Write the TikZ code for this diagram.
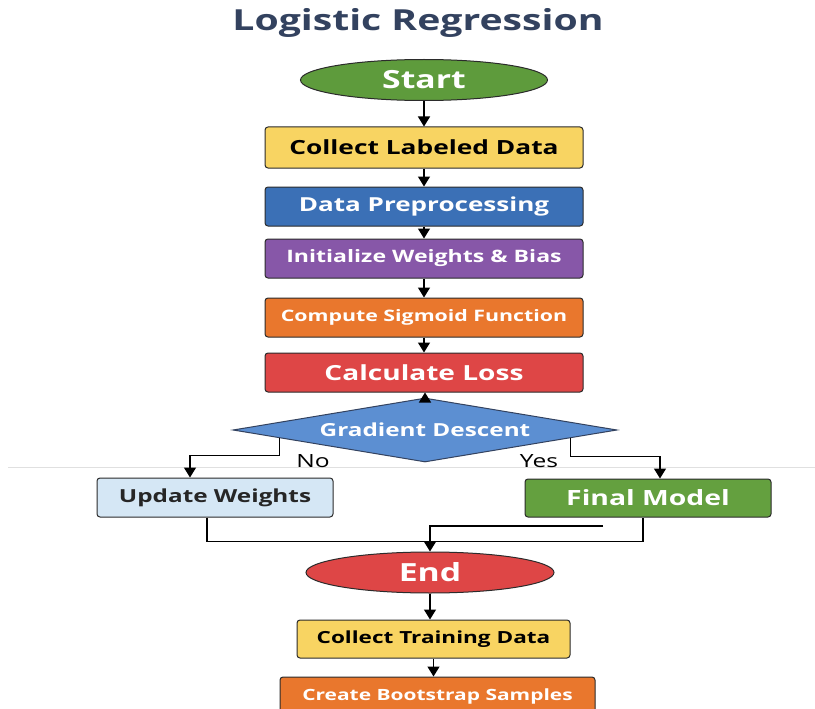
\documentclass[tikz,border=0pt]{standalone}
\usepackage{fontspec}
\setmainfont{Open Sans}[FakeStretch=1.35]
\usetikzlibrary{shapes.geometric,arrows.meta,calc}

\definecolor{titleblue}{HTML}{33425F}
\definecolor{edge}{HTML}{2B2B2B}
\definecolor{startgreen}{HTML}{5E9B3C}
\definecolor{dyellow}{HTML}{F8D462}
\definecolor{dblue}{HTML}{3B70B6}
\definecolor{dpurple}{HTML}{8757A8}
\definecolor{dorange}{HTML}{E9772D}
\definecolor{dred}{HTML}{DE4646}
\definecolor{gdblue}{HTML}{5C8FD2}
\definecolor{lightblue}{HTML}{D5E7F5}
\definecolor{fgreen}{HTML}{64A03F}

\tikzstyle{step box}=[rectangle,rounded corners=3pt,draw=edge,line width=1pt,minimum width=318pt,minimum height=39pt,inner sep=0pt,font=\fontsize{19.5}{23}\selectfont\bfseries]
\tikzstyle{terminal}=[ellipse,draw=edge,line width=1pt,inner sep=0pt,text=white,font=\fontsize{25}{29}\selectfont\bfseries]
\tikzstyle{flow}=[-{Triangle[width=12pt,length=10pt]},line width=1.5pt,black]
\tikzstyle{link}=[line width=1.5pt,black]

\begin{document}
\begin{tikzpicture}[x=1pt,y=-1pt]
    \useasboundingbox[fill=white] (0,0) rectangle (815,709);
    \draw[black!12,line width=1pt] (8,467) -- (815,467);

    \node[titleblue,font=\fontsize{29}{34}\selectfont\bfseries] (title) at (418,23) {Logistic Regression};

    \node[terminal,fill=startgreen,minimum width=247pt,minimum height=41pt] (start) at (424,80) {Start};
    \node[step box,fill=dyellow,minimum height=41pt] (collect) at (424,147.5) {Collect Labeled Data};
    \node[step box,fill=dblue,text=white,font=\fontsize{19.3}{23}\selectfont\bfseries] (prep) at (424,206.5) {Data Preprocessing};
    \node[step box,fill=dpurple,text=white,font=\fontsize{17.1}{20}\selectfont\bfseries] (init) at (424,258.5) {Initialize Weights \& Bias};
    \node[step box,fill=dorange,text=white,font=\fontsize{15.8}{19}\selectfont\bfseries] (sigmoid) at (424,317.5) {Compute Sigmoid Function};
    \node[step box,fill=dred,text=white,font=\fontsize{20.8}{24}\selectfont\bfseries] (loss) at (424,372.5) {Calculate Loss};
    \node[diamond,aspect=6,draw=titleblue,line width=1pt,fill=gdblue,text=white,inner sep=0pt,
          minimum width=384pt,minimum height=64pt,font=\fontsize{18}{21}\selectfont\bfseries] (grad) at (425,430) {Gradient Descent};

    \node[step box,fill=lightblue,text=black!85,minimum width=236pt,font=\fontsize{18}{21}\selectfont\bfseries] (update) at (215,497.5) {Update Weights};
    \node[step box,fill=fgreen,text=white,minimum width=246pt,minimum height=38pt,font=\fontsize{21}{25}\selectfont\bfseries] (final) at (648,498) {Final Model};

    \node[font=\fontsize{18.2}{21}\selectfont] (no) at (313,461) {No};
    \node[font=\fontsize{18.2}{21}\selectfont] (yes) at (539,461) {Yes};

    \node[terminal,fill=dred,minimum width=248pt,minimum height=41pt] (end) at (430,572.5) {End};
    \node[step box,fill=dyellow,minimum width=273pt,minimum height=38pt,font=\fontsize{16.7}{20}\selectfont\bfseries] (train) at (433.5,639) {Collect Training Data};
    \node[step box,fill=dorange,text=white,minimum width=315pt,minimum height=38pt,font=\fontsize{15.5}{19}\selectfont\bfseries] (boot) at (437.5,696) {Create Bootstrap Samples};

    % main column
    \draw[flow] (start) -- (collect);
    \draw[flow] (collect) -- (prep);
    \draw[flow] (prep) -- (init);
    \draw[flow] (init) -- (sigmoid);
    \draw[flow] (sigmoid) -- (loss);
    \draw[flow] (grad.north) -- (grad.north |- loss.south);

    % branches
    \draw[flow] ($(grad.west)!0.245!(grad.south)$) |- ($(update.north)+(-25,-22)$) -- ($(update.north)+(-25,0)$);
    \draw[flow] ($(grad.east)!0.245!(grad.south)$) |- ($(final.north)+(12,-22)$) -- ($(final.north)+(12,0)$);

    % merge
    \draw[link] ($(update.south)+(-8,0)$) |- ($(final.south)+(-5,24)$) -- ($(final.south)+(-5,0)$);
    \coordinate (merge) at (603,526);
    \draw[flow] (merge) -| (end.north);

    \draw[flow] (end) -- (end |- train.north);
    \draw[flow] (train) -- (train |- boot.north);
\end{tikzpicture}
\end{document}
